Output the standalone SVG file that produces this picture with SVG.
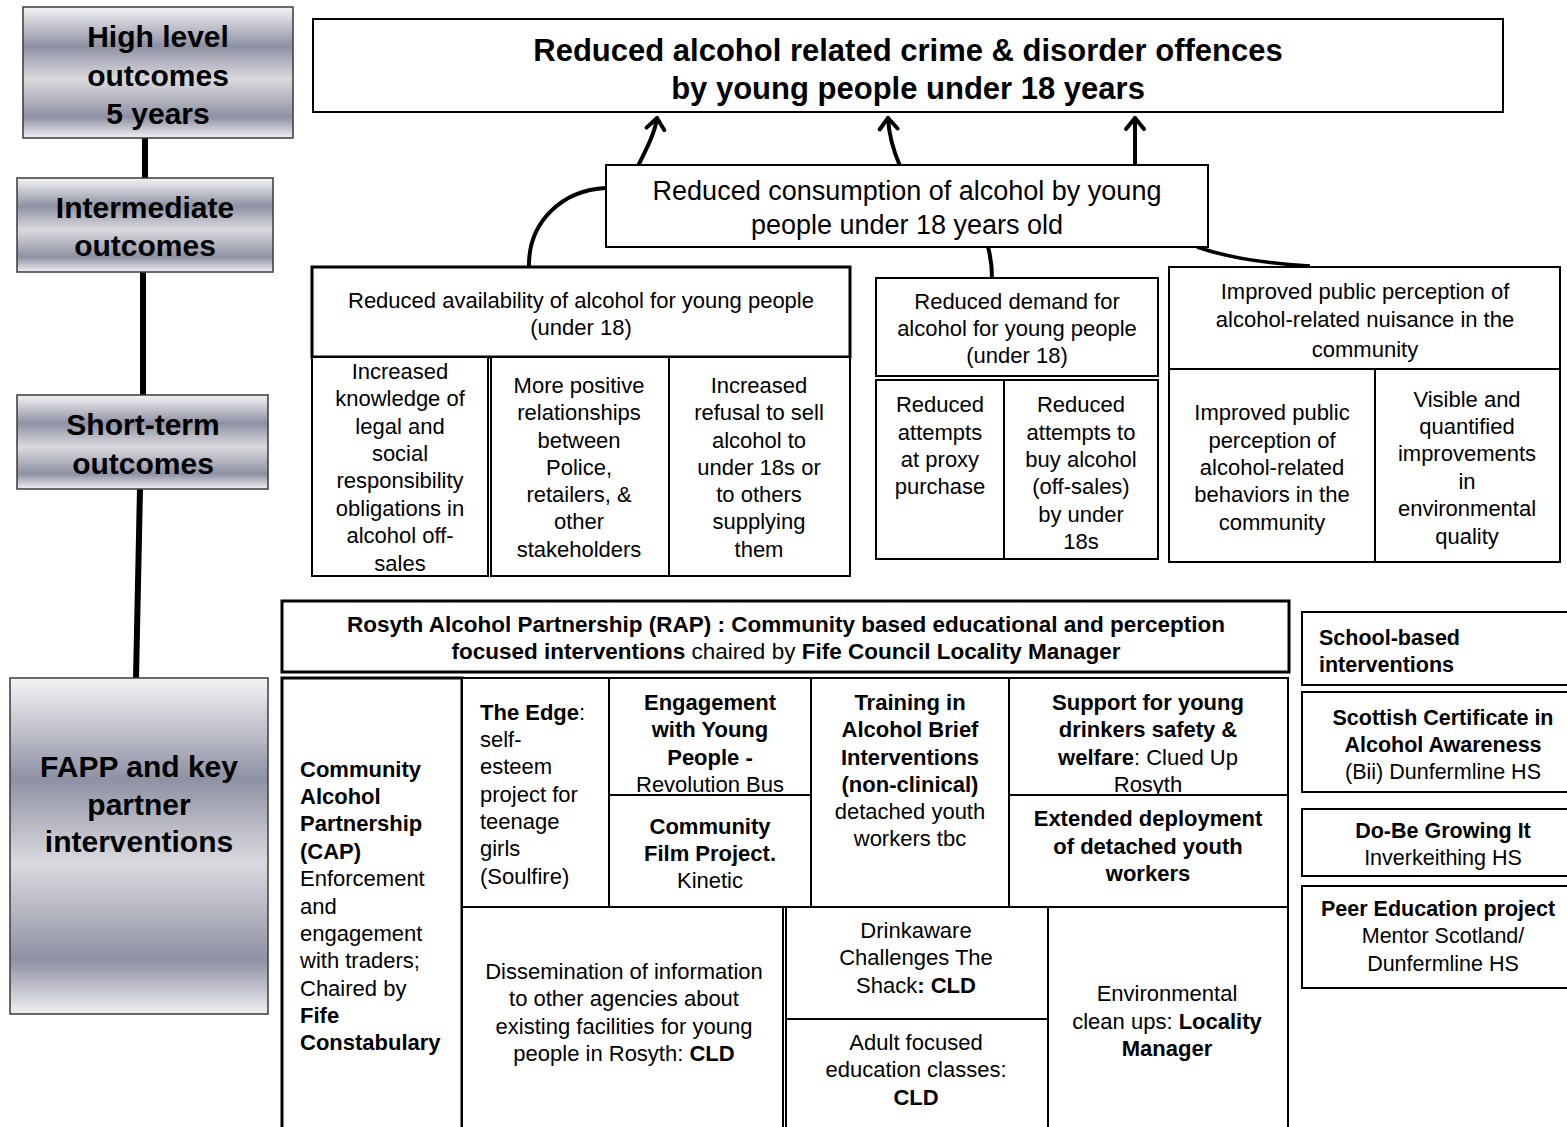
<svg xmlns="http://www.w3.org/2000/svg" width="1567" height="1127" viewBox="0 0 1567 1127">
<defs>
<linearGradient id="metal" x1="0" y1="0" x2="0" y2="1">
<stop offset="0" stop-color="#f4f4f6"/>
<stop offset="0.3" stop-color="#8e91a3"/>
<stop offset="0.55" stop-color="#dadade"/>
<stop offset="0.84" stop-color="#8e91a3"/>
<stop offset="1" stop-color="#f0f0f2"/>
</linearGradient>
<marker id="chev" markerUnits="userSpaceOnUse" viewBox="-14 -12 18 24" refX="0" refY="0" markerWidth="18" markerHeight="24" orient="auto">
<path d="M-11,-9 L0,0 L-11,9" fill="none" stroke="#000" stroke-width="4" stroke-linecap="round" stroke-linejoin="round"/>
</marker>
<style>
.box{fill:#fff;stroke:#000;stroke-width:2}
.thick{stroke-width:3}
.lvl{fill:url(#metal);stroke:#3a3a3a;stroke-width:1.5}
.t{font-family:"Liberation Sans",Arial,sans-serif;font-size:22px;fill:#000}
.c{text-anchor:middle}
.b{font-weight:bold}
.lv{font-size:30px;font-weight:bold}
.rap{font-size:22.5px}
.sch{font-size:21.5px}
.conn{fill:none;stroke:#000;stroke-width:4;stroke-linecap:round}
.spine{fill:none;stroke:#000;stroke-width:6}
</style>
</defs>
<rect width="1567" height="1127" fill="#fff"/>

<g id="connectors">
<path class="spine" d="M145,138 L145,178"/>
<path class="spine" d="M143,272 L143,395"/>
<path class="spine" d="M140,489 L136,678"/>
<path class="conn" d="M638,166 C648,146 655,132 657,118" marker-end="url(#chev)"/>
<path class="conn" d="M900,166 C893,150 889,136 888,118" marker-end="url(#chev)"/>
<path class="conn" d="M1135,166 L1135,118" marker-end="url(#chev)"/>
<path class="conn" d="M606,188 C562,190 528,222 529,267"/>
<path class="conn" d="M988,247 C991,258 992,268 992,278"/>
<path fill="none" stroke="#000" stroke-width="3.5" d="M1197,247 Q1240,262 1310,266"/>
</g>

<g id="level-high">
<rect class="lvl" x="23" y="7" width="270" height="131" stroke="#000"/>
<text class="t c lv" x="158" y="47">High level</text>
<text class="t c lv" x="158" y="86">outcomes</text>
<text class="t c lv" x="158" y="124">5 years</text>
</g>
<g id="level-intermediate">
<rect class="lvl" x="17" y="178" width="256" height="94"/>
<text class="t c lv" x="145" y="218">Intermediate</text>
<text class="t c lv" x="145" y="256">outcomes</text>
</g>
<g id="level-short">
<rect class="lvl" x="17" y="395" width="251" height="94"/>
<text class="t c lv" x="143" y="435">Short-term</text>
<text class="t c lv" x="143" y="474">outcomes</text>
</g>
<g id="level-fapp">
<rect class="lvl" x="10" y="678" width="258" height="336"/>
<text class="t c lv" x="139" y="777">FAPP and key</text>
<text class="t c lv" x="139" y="815">partner</text>
<text class="t c lv" x="139" y="852">interventions</text>
</g>

<g id="high-outcome">
<rect class="box" x="313" y="19" width="1190" height="93"/>
<text class="t c b" style="font-size:31px" x="908" y="61">Reduced alcohol related crime &amp; disorder offences</text>
<text class="t c b" style="font-size:31px" x="908" y="99">by young people under 18 years</text>
</g>

<g id="consumption">
<rect class="box" x="606" y="165" width="602" height="82"/>
<text class="t c" style="font-size:27px" x="907" y="200">Reduced consumption of alcohol by young</text>
<text class="t c" style="font-size:27px" x="907" y="234">people under 18 years old</text>
</g>

<g id="availability">
<rect class="box thick" x="312" y="267" width="538" height="90"/>
<text class="t c" x="581" y="308">Reduced availability of alcohol for young people</text>
<text class="t c" x="581" y="335">(under 18)</text>
<rect class="box" x="312" y="357" width="176" height="219"/>
<rect class="box" x="491" y="357" width="178" height="219"/>
<rect class="box" x="669" y="357" width="181" height="219"/>
<text class="t c" x="400" y="379">Increased</text>
<text class="t c" x="400" y="406">knowledge of</text>
<text class="t c" x="400" y="434">legal and</text>
<text class="t c" x="400" y="461">social</text>
<text class="t c" x="400" y="488">responsibility</text>
<text class="t c" x="400" y="516">obligations in</text>
<text class="t c" x="400" y="543">alcohol off-</text>
<text class="t c" x="400" y="571">sales</text>
<text class="t c" x="579" y="393">More positive</text>
<text class="t c" x="579" y="420">relationships</text>
<text class="t c" x="579" y="448">between</text>
<text class="t c" x="579" y="475">Police,</text>
<text class="t c" x="579" y="502">retailers, &amp;</text>
<text class="t c" x="579" y="529">other</text>
<text class="t c" x="579" y="557">stakeholders</text>
<text class="t c" x="759" y="393">Increased</text>
<text class="t c" x="759" y="420">refusal to sell</text>
<text class="t c" x="759" y="448">alcohol to</text>
<text class="t c" x="759" y="475">under 18s or</text>
<text class="t c" x="759" y="502">to others</text>
<text class="t c" x="759" y="529">supplying</text>
<text class="t c" x="759" y="557">them</text>
</g>

<g id="demand">
<rect class="box" x="876" y="278" width="282" height="98"/>
<text class="t c" x="1017" y="309">Reduced demand for</text>
<text class="t c" x="1017" y="336">alcohol for young people</text>
<text class="t c" x="1017" y="363">(under 18)</text>
<rect class="box" x="876" y="380" width="282" height="179"/>
<line x1="1004" y1="380" x2="1004" y2="559" stroke="#000" stroke-width="2"/>
<text class="t c" x="940" y="412">Reduced</text>
<text class="t c" x="940" y="440">attempts</text>
<text class="t c" x="940" y="467">at proxy</text>
<text class="t c" x="940" y="494">purchase</text>
<text class="t c" x="1081" y="412">Reduced</text>
<text class="t c" x="1081" y="440">attempts to</text>
<text class="t c" x="1081" y="467">buy alcohol</text>
<text class="t c" x="1081" y="494">(off-sales)</text>
<text class="t c" x="1081" y="522">by under</text>
<text class="t c" x="1081" y="549">18s</text>
</g>

<g id="perception">
<rect class="box" x="1169" y="267" width="391" height="102"/>
<text class="t c" x="1365" y="299">Improved public perception of</text>
<text class="t c" x="1365" y="327">alcohol-related  nuisance in the</text>
<text class="t c" x="1365" y="357">community</text>
<rect class="box" x="1169" y="369" width="391" height="193"/>
<line x1="1375" y1="369" x2="1375" y2="562" stroke="#000" stroke-width="2"/>
<text class="t c" x="1272" y="420">Improved public</text>
<text class="t c" x="1272" y="448">perception of</text>
<text class="t c" x="1272" y="475">alcohol-related</text>
<text class="t c" x="1272" y="502">behaviors in the</text>
<text class="t c" x="1272" y="530">community</text>
<text class="t c" x="1467" y="407">Visible and</text>
<text class="t c" x="1467" y="434">quantified</text>
<text class="t c" x="1467" y="461">improvements</text>
<text class="t c" x="1467" y="489">in</text>
<text class="t c" x="1467" y="516">environmental</text>
<text class="t c" x="1467" y="544">quality</text>
</g>

<g id="rap">
<rect class="box thick" x="282" y="601" width="1007" height="71"/>
<text class="t c b rap" x="786" y="632">Rosyth Alcohol Partnership (RAP) : Community based educational and perception</text>
<text class="t c rap" x="786" y="659"><tspan class="b">focused interventions</tspan> chaired by <tspan class="b">Fife Council Locality Manager</tspan></text>
</g>

<g id="cap">
<rect class="box thick" x="282" y="678" width="180" height="460"/>
<text class="t b" x="300" y="777">Community</text>
<text class="t b" x="300" y="804">Alcohol</text>
<text class="t b" x="300" y="831">Partnership</text>
<text class="t b" x="300" y="859">(CAP)</text>
<text class="t" x="300" y="886">Enforcement</text>
<text class="t" x="300" y="914">and</text>
<text class="t" x="300" y="941">engagement</text>
<text class="t" x="300" y="968">with traders;</text>
<text class="t" x="300" y="996">Chaired by</text>
<text class="t b" x="300" y="1023">Fife</text>
<text class="t b" x="300" y="1050">Constabulary</text>
</g>

<g id="edge">
<rect class="box" x="462" y="678" width="147" height="229"/>
<text class="t" x="480" y="720"><tspan class="b">The Edge</tspan>:</text>
<text class="t" x="480" y="747">self-</text>
<text class="t" x="480" y="774">esteem</text>
<text class="t" x="480" y="802">project for</text>
<text class="t" x="480" y="829">teenage</text>
<text class="t" x="480" y="856">girls</text>
<text class="t" x="480" y="884">(Soulfire)</text>
</g>

<g id="engagement">
<rect class="box" x="609" y="678" width="202" height="117"/>
<text class="t c b" x="710" y="710">Engagement</text>
<text class="t c b" x="710" y="737">with Young</text>
<text class="t c b" x="710" y="765">People -</text>
<text class="t c" x="710" y="792">Revolution Bus</text>
</g>

<g id="film">
<rect class="box" x="609" y="795" width="202" height="112"/>
<text class="t c b" x="710" y="834">Community</text>
<text class="t c b" x="710" y="861">Film Project.</text>
<text class="t c" x="710" y="888">Kinetic</text>
</g>

<g id="training">
<rect class="box" x="811" y="678" width="198" height="229"/>
<text class="t c b" x="910" y="710">Training in</text>
<text class="t c b" x="910" y="737">Alcohol Brief</text>
<text class="t c b" x="910" y="765">Interventions</text>
<text class="t c b" x="910" y="792">(non-clinical)</text>
<text class="t c" x="910" y="819">detached youth</text>
<text class="t c" x="910" y="846">workers tbc</text>
</g>

<g id="support">
<rect class="box" x="1009" y="678" width="279" height="117"/>
<text class="t c b" x="1148" y="710">Support for young</text>
<text class="t c b" x="1148" y="737">drinkers safety &amp;</text>
<text class="t c" x="1148" y="765"><tspan class="b">welfare</tspan>: Clued Up</text>
<text class="t c" x="1148" y="792">Rosyth</text>
</g>

<g id="extended">
<rect class="box" x="1009" y="795" width="279" height="112"/>
<text class="t c b" x="1148" y="826">Extended deployment</text>
<text class="t c b" x="1148" y="854">of detached youth</text>
<text class="t c b" x="1148" y="881">workers</text>
</g>

<g id="dissemination">
<rect class="box" x="462" y="907" width="321" height="230"/>
<text class="t c" x="624" y="979">Dissemination of information</text>
<text class="t c" x="624" y="1006">to other agencies  about</text>
<text class="t c" x="624" y="1034">existing facilities for young</text>
<text class="t c" x="624" y="1061">people in Rosyth: <tspan class="b">CLD</tspan></text>
</g>

<g id="drinkaware">
<rect class="box" x="786" y="907" width="262" height="112"/>
<text class="t c" x="916" y="938">Drinkaware</text>
<text class="t c" x="916" y="965">Challenges The</text>
<text class="t c" x="916" y="993">Shack<tspan class="b">: CLD</tspan></text>
</g>

<g id="adult">
<rect class="box" x="786" y="1019" width="262" height="118"/>
<text class="t c" x="916" y="1050">Adult focused</text>
<text class="t c" x="916" y="1077">education classes:</text>
<text class="t c b" x="916" y="1105">CLD</text>
</g>

<g id="environmental">
<rect class="box" x="1048" y="907" width="240" height="230"/>
<text class="t c" x="1167" y="1001">Environmental</text>
<text class="t c" x="1167" y="1029">clean ups: <tspan class="b">Locality</tspan></text>
<text class="t c b" x="1167" y="1056">Manager</text>
</g>

<g id="school-based">
<rect class="box" x="1302" y="612" width="270" height="73"/>
<text class="t b sch" x="1319" y="645">School-based</text>
<text class="t b sch" x="1319" y="672">interventions</text>
</g>

<g id="scottish-cert">
<rect class="box" x="1302" y="692" width="270" height="100"/>
<text class="t c b sch" x="1443" y="725">Scottish Certificate in</text>
<text class="t c b sch" x="1443" y="752">Alcohol Awareness</text>
<text class="t c sch" x="1443" y="779">(Bii) Dunfermline HS</text>
</g>

<g id="do-be">
<rect class="box" x="1302" y="809" width="270" height="67"/>
<text class="t c b sch" x="1443" y="838">Do-Be Growing It</text>
<text class="t c sch" x="1443" y="865">Inverkeithing HS</text>
</g>

<g id="peer-education">
<rect class="box" x="1302" y="886" width="270" height="102"/>
<text class="t b sch" x="1321" y="916">Peer Education project</text>
<text class="t c sch" x="1443" y="943">Mentor Scotland/</text>
<text class="t c sch" x="1443" y="971">Dunfermline HS</text>
</g>
</svg>
